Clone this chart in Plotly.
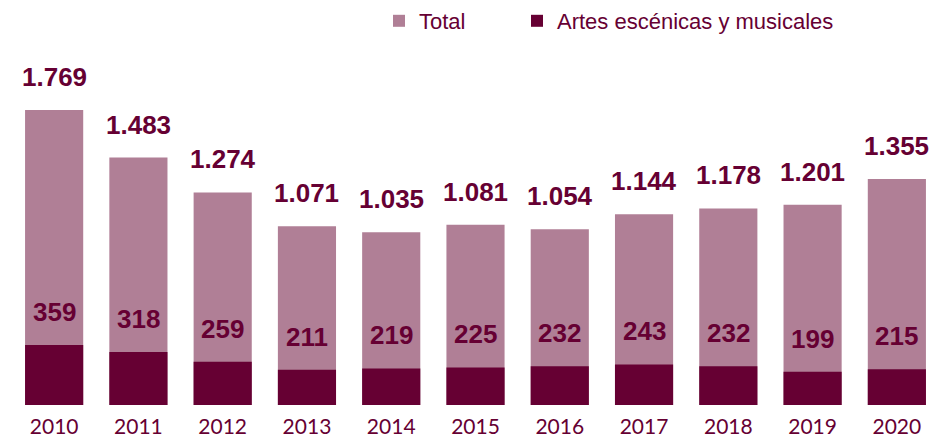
import plotly.graph_objects as go

years = ["2010", "2011", "2012", "2013", "2014", "2015", "2016", "2017", "2018", "2019", "2020"]
total = [1769, 1483, 1274, 1071, 1035, 1081, 1054, 1144, 1178, 1201, 1355]
artes = [359, 318, 259, 211, 219, 225, 232, 243, 232, 199, 215]

C_TOTAL = "#B07F96"
C_ARTES = "#660033"
C_TEXT = "#660033"

# page body has an 8px default margin; compensate so the figure fills the window
W, H = 942, 431


def fmt(v):
    return f"{v:,}".replace(",", ".")


fig = go.Figure()
fig.add_trace(go.Bar(x=years, y=total, name="Total", legend="legend",
                     marker=dict(color=C_TOTAL, line=dict(width=0))))
fig.add_trace(go.Bar(x=years, y=artes, name="Artes escénicas y musicales", legend="legend2",
                     marker=dict(color=C_ARTES, line=dict(width=0))))

lab_font = dict(family="Liberation Sans, Arial", size=26, color=C_TEXT, weight="bold")
annots = []
for i, (t, a) in enumerate(zip(total, artes)):
    annots.append(dict(x=i, y=t, xref="x", yref="y", text=fmt(t), showarrow=False,
                       yanchor="bottom", yshift=16, font=lab_font))
    annots.append(dict(x=i, y=a, xref="x", yref="y", text=fmt(a), showarrow=False,
                       yanchor="bottom", yshift=16, font=lab_font))

ml, mr, mt, mb = 4, 11, 32, 34
pw = W - ml - mr
ph = H - mt - mb

leg_common = dict(orientation="h", xanchor="left", yanchor="middle",
                  y=1 + (mt - 13) / ph, bgcolor="rgba(0,0,0,0)",
                  font=dict(family="Liberation Sans, Arial", size=22, color=C_TEXT),
                  itemclick=False)

fig.update_layout(
    width=W, height=H,
    margin=dict(l=ml, r=mr, t=mt, b=mb, autoexpand=False),
    barmode="overlay",
    bargap=0.31,
    plot_bgcolor="white", paper_bgcolor="white",
    showlegend=True,
    legend=dict(x=(371 - ml) / pw, **leg_common),
    legend2=dict(x=(509 - ml) / pw, **leg_common),
    annotations=annots,
    xaxis=dict(type="category", showgrid=False, showline=False, ticks="", zeroline=False,
               range=[-0.5, 10.5], ticklabelstandoff=7,
               tickfont=dict(family="Lato", size=21, color=C_TEXT)),
    yaxis=dict(visible=False, range=[0, 2188], showgrid=False, zeroline=False),
)

fig.write_html("out.html")
